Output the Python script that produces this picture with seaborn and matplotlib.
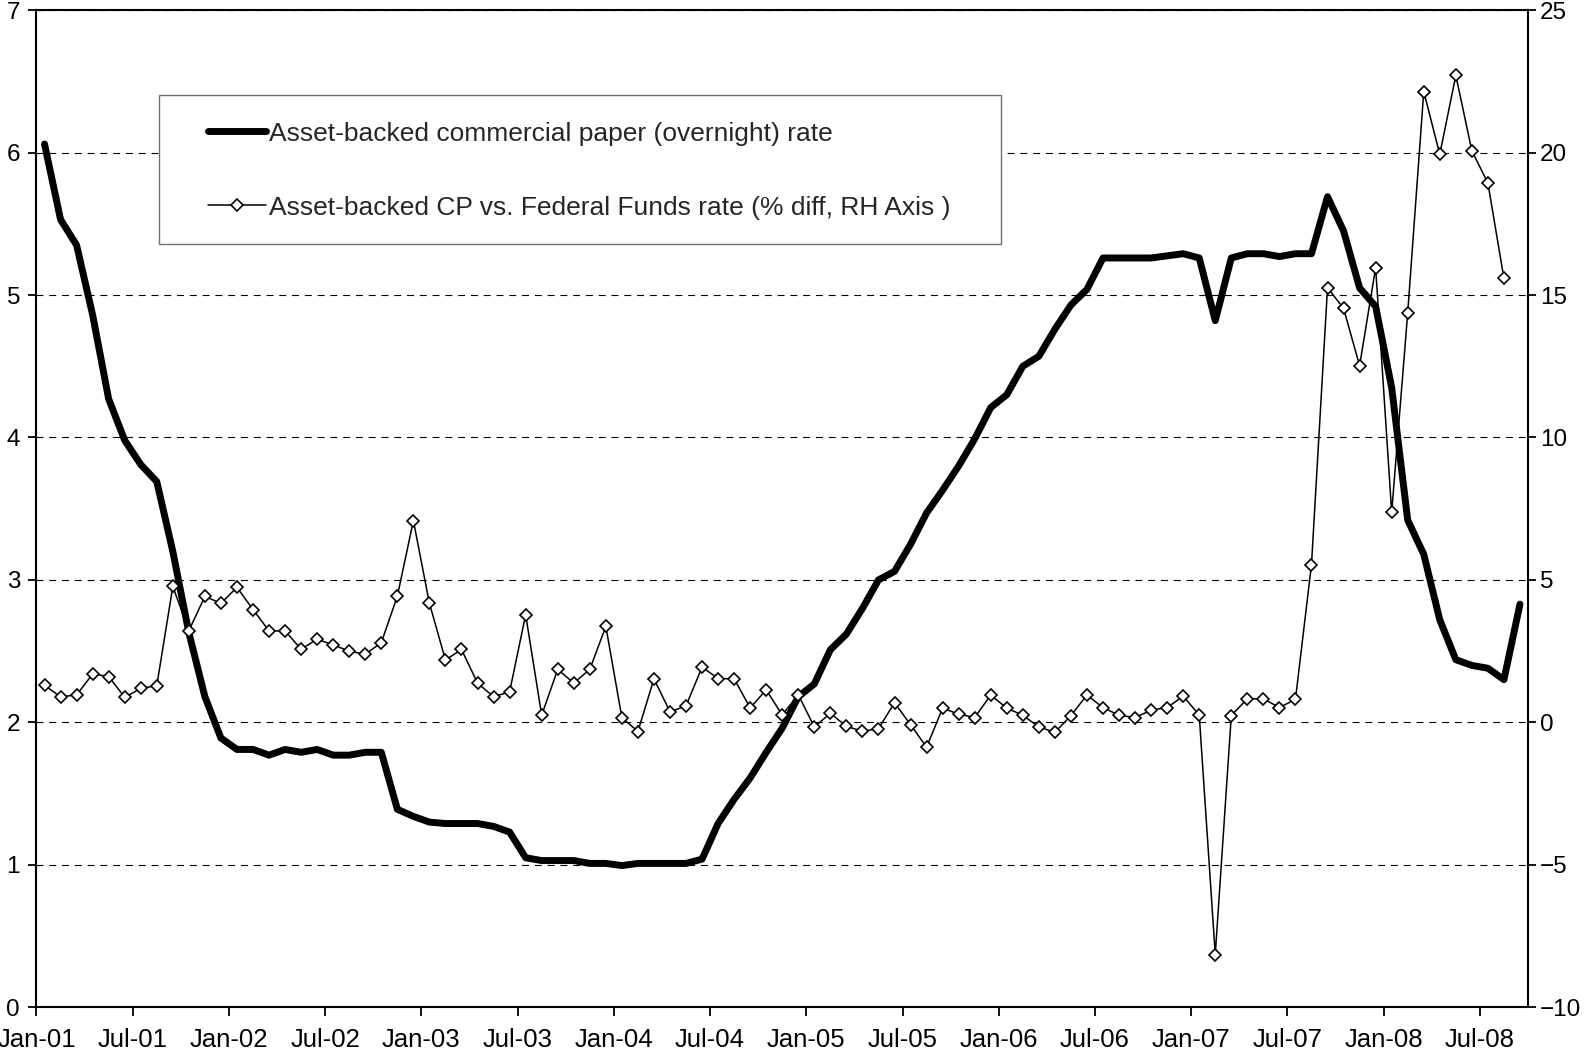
import numpy as np
import pandas as pd
import matplotlib
matplotlib.use("Agg")
import matplotlib.pyplot as plt
import seaborn as sns
from matplotlib.patches import Rectangle

sns.set_style("ticks")
plt.rcParams["font.family"] = ["Liberation Sans", "DejaVu Sans"]
plt.rcParams["lines.scale_dashes"] = False

# Monthly observations, Jan 2001 - Sep 2008
months = pd.period_range("2001-01", "2008-09", freq="M")

# Asset-backed commercial paper (overnight) rate, %  (left axis)
abcp_rate = [
    6.06, 5.53, 5.35, 4.86, 4.27, 3.98, 3.81, 3.69, 3.20, 2.63,
    2.18, 1.89, 1.81, 1.81, 1.77, 1.81, 1.79, 1.81, 1.77, 1.77,
    1.79, 1.79, 1.39, 1.34, 1.30, 1.29, 1.29, 1.29, 1.27, 1.23,
    1.05, 1.03, 1.03, 1.03, 1.01, 1.01, 0.995, 1.01, 1.01, 1.01,
    1.01, 1.04, 1.29, 1.46, 1.61, 1.79, 1.96, 2.18, 2.27, 2.51,
    2.62, 2.80, 3.00, 3.06, 3.25, 3.47, 3.63, 3.80, 3.99, 4.21,
    4.30, 4.50, 4.57, 4.76, 4.93, 5.04, 5.26, 5.26, 5.26, 5.26,
    5.275, 5.29, 5.26, 4.82, 5.26, 5.29, 5.29, 5.27, 5.29, 5.29,
    5.69, 5.45, 5.05, 4.92, 4.35, 3.42, 3.18, 2.72, 2.44, 2.40,
    2.38, 2.30, 2.83,
]

# Asset-backed CP vs. Federal Funds rate, % difference  (right axis, ends Aug 2008)
spread_pct = [
    1.30, 0.90, 0.96, 1.70, 1.61, 0.88, 1.19, 1.29, 4.77, 3.22,
    4.42, 4.18, 4.74, 3.96, 3.21, 3.21, 2.57, 2.92, 2.72, 2.50,
    2.39, 2.80, 4.43, 7.08, 4.18, 2.19, 2.56, 1.38, 0.90, 1.07,
    3.78, 0.25, 1.86, 1.38, 1.86, 3.37, 0.17, -0.32, 1.53, 0.37,
    0.58, 1.94, 1.54, 1.53, 0.51, 1.14, 0.26, 0.97, -0.16, 0.32,
    -0.14, -0.31, -0.22, 0.69, -0.08, -0.87, 0.50, 0.29, 0.17, 0.96,
    0.50, 0.25, -0.16, -0.35, 0.24, 0.96, 0.52, 0.25, 0.17, 0.43,
    0.52, 0.92, 0.26, -8.15, 0.24, 0.83, 0.83, 0.52, 0.81, 5.54,
    15.26, 14.53, 12.52, 15.96, 7.37, 14.38, 22.14, 19.94, 22.71, 20.06,
    18.93, 15.58,
]

tick_labels = [
    "Jan-01", "Jul-01", "Jan-02", "Jul-02", "Jan-03", "Jul-03", "Jan-04", "Jul-04",
    "Jan-05", "Jul-05", "Jan-06", "Jul-06", "Jan-07", "Jul-07", "Jan-08", "Jul-08",
]

label_rate = "Asset-backed commercial paper (overnight) rate"
label_spread = "Asset-backed CP vs. Federal Funds rate (% diff, RH Axis )"

# each month is plotted in the middle of its category slot
pos = np.arange(len(months)) + 0.5
df_rate = pd.DataFrame({"pos": pos, "rate": abcp_rate})
df_spread = pd.DataFrame({"pos": pos[:len(spread_pct)], "spread": spread_pct})

fig = plt.figure(figsize=(15.89, 10.57), dpi=100)
ax = fig.add_axes([0.02297, 0.04702, 0.93864, 0.94342])
ax2 = ax.twinx()

sns.lineplot(data=df_rate, x="pos", y="rate", ax=ax, color="black", lw=5,
             solid_capstyle="round", solid_joinstyle="round", legend=False, zorder=3)
sns.lineplot(data=df_spread, x="pos", y="spread", ax=ax2, color="black", lw=1.1,
             marker="D", markersize=6.6, markerfacecolor="white",
             markeredgecolor="black", markeredgewidth=1.2, legend=False, zorder=3)

ax.set_xlim(0, len(months))
ax.set_ylim(0, 7)
ax2.set_ylim(-10, 25)
ax.set_xticks(np.arange(0, len(months), 6))
ax.set_xticklabels(tick_labels)
ax.set_yticks(range(0, 8))
ax2.set_yticks(range(-10, 26, 5))
ax.set_xlabel("")
ax.set_ylabel("")
ax2.set_ylabel("")

# dashed horizontal grid
ax.yaxis.grid(True, linestyle=(0, (5.0, 4.2)), color="black", lw=0.8)
ax.set_axisbelow(True)

for side in ["left", "top", "bottom"]:
    ax.spines[side].set_linewidth(1.5)
    ax.spines[side].set_color("black")
    ax2.spines[side].set_visible(False)
ax.spines["right"].set_visible(False)
ax2.spines["right"].set_linewidth(1.5)
ax2.spines["right"].set_color("black")

ax.tick_params(axis="y", direction="out", length=5.8, width=1.3, pad=6,
               labelsize=17.5, colors="black")
ax.tick_params(axis="x", direction="out", length=6.5, width=1.3, pad=8.5,
               labelsize=18.5, colors="black")
ax2.tick_params(axis="y", direction="out", length=5.8, width=1.3, pad=3,
                labelsize=17.5, colors="black")

# legend box
ax.add_patch(Rectangle((0.0822, 0.7652), 0.5646, 0.1494, transform=ax.transAxes,
                       facecolor="white", edgecolor="#707070", lw=1.0, zorder=2))
handles = [ax.get_lines()[0], ax2.get_lines()[0]]
ax2.legend(handles, [label_rate, label_spread], loc="center left",
           bbox_to_anchor=(0.1148, 0.839), frameon=False, fontsize=19,
           handlelength=2.19, handletextpad=0.15, labelspacing=1.90,
           borderpad=0, borderaxespad=0, numpoints=1)

fig.savefig("out.png", dpi=100)
